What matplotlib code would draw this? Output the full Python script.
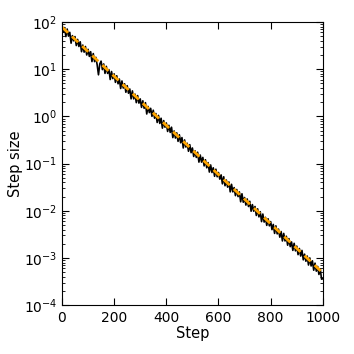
import numpy as np
import matplotlib
matplotlib.use("Agg")
import matplotlib.pyplot as plt

plt.rcParams["axes.unicode_minus"] = False

# Steps where the noisy step size was sampled (every 5 steps)
steps = np.arange(0, 1001, 5)

log_step_size = [
    1.93, 1.78, 1.88, 1.69, 1.85, 1.70, 1.78, 1.55, 1.71, 1.60,
    1.69, 1.50, 1.63, 1.48, 1.58, 1.37, 1.51, 1.36, 1.48, 1.30,
    1.42, 1.27, 1.37, 1.16, 1.33, 1.16, 1.25, 1.09, 0.88, 1.11,
    1.17, 0.99, 1.11, 0.91, 1.06, 0.91, 0.99, 0.78, 0.95, 0.80,
    0.90, 0.72, 0.86, 0.69, 0.79, 0.59, 0.75, 0.60, 0.69, 0.51,
    0.65, 0.49, 0.58, 0.37, 0.54, 0.37, 0.47, 0.29, 0.44, 0.28,
    0.37, 0.19, 0.33, 0.17, 0.29, 0.05, 0.21, 0.08, 0.17, 0.00,
    0.13, -0.04, 0.06, -0.13, 0.02, -0.15, -0.04, -0.25, -0.09, -0.23,
    -0.14, -0.32, -0.19, -0.34, -0.23, -0.45, -0.31, -0.46, -0.35, -0.53,
    -0.39, -0.56, -0.45, -0.67, -0.50, -0.65, -0.57, -0.74, -0.60, -0.77,
    -0.67, -0.85, -0.73, -0.87, -0.76, -0.97, -0.82, -0.97, -0.87, -1.05,
    -0.92, -1.09, -0.98, -1.18, -1.03, -1.19, -1.09, -1.27, -1.12, -1.28,
    -1.19, -1.33, -1.24, -1.43, -1.28, -1.47, -1.35, -1.50, -1.39, -1.60,
    -1.44, -1.60, -1.51, -1.68, -1.55, -1.70, -1.60, -1.81, -1.64, -1.82,
    -1.72, -1.88, -1.75, -1.91, -1.80, -2.01, -1.87, -2.01, -1.91, -2.10,
    -1.96, -2.13, -2.02, -2.23, -2.07, -2.24, -2.14, -2.31, -2.17, -2.32,
    -2.23, -2.40, -2.29, -2.48, -2.32, -2.49, -2.39, -2.56, -2.44, -2.64,
    -2.48, -2.64, -2.54, -2.73, -2.59, -2.76, -2.66, -2.84, -2.69, -2.85,
    -2.75, -2.93, -2.80, -2.96, -2.84, -3.04, -2.92, -3.07, -2.96, -3.15,
    -3.00, -3.17, -3.06, -3.26, -3.11, -3.28, -3.18, -3.35, -3.23, -3.45,
    -3.44,
]

# Expected (geometric) decay, straight line on the log axis
trend_steps = [0, 1000]
trend_size = [78, 4.8e-4]

step_size = 10 ** np.array(log_step_size)

fig = plt.figure(figsize=(3.54, 3.54), dpi=100)
ax = fig.add_axes([0.175, 0.138, 0.737, 0.8])

ax.plot(steps, step_size, color="black", linewidth=1.2)
ax.plot(trend_steps, trend_size, color="orange", linewidth=2,
        linestyle="--", dashes=(3, 2))

ax.set_yscale("log")
ax.set_xlim(0, 1000)
ax.set_ylim(1e-4, 1e2)
ax.set_xticks([0, 200, 400, 600, 800, 1000])
ax.tick_params(which="both", direction="in", top=True, right=True, labelsize=10)
ax.tick_params(which="major", length=5)
ax.tick_params(which="minor", length=2.5)
ax.tick_params(axis="x", pad=4)

ax.set_xlabel("Step", fontsize=10.5, labelpad=1)
ax.set_ylabel("Step size", fontsize=10.5)
ax.yaxis.set_label_coords(-0.15, 0.5)

fig.savefig("out.png", dpi=100)
